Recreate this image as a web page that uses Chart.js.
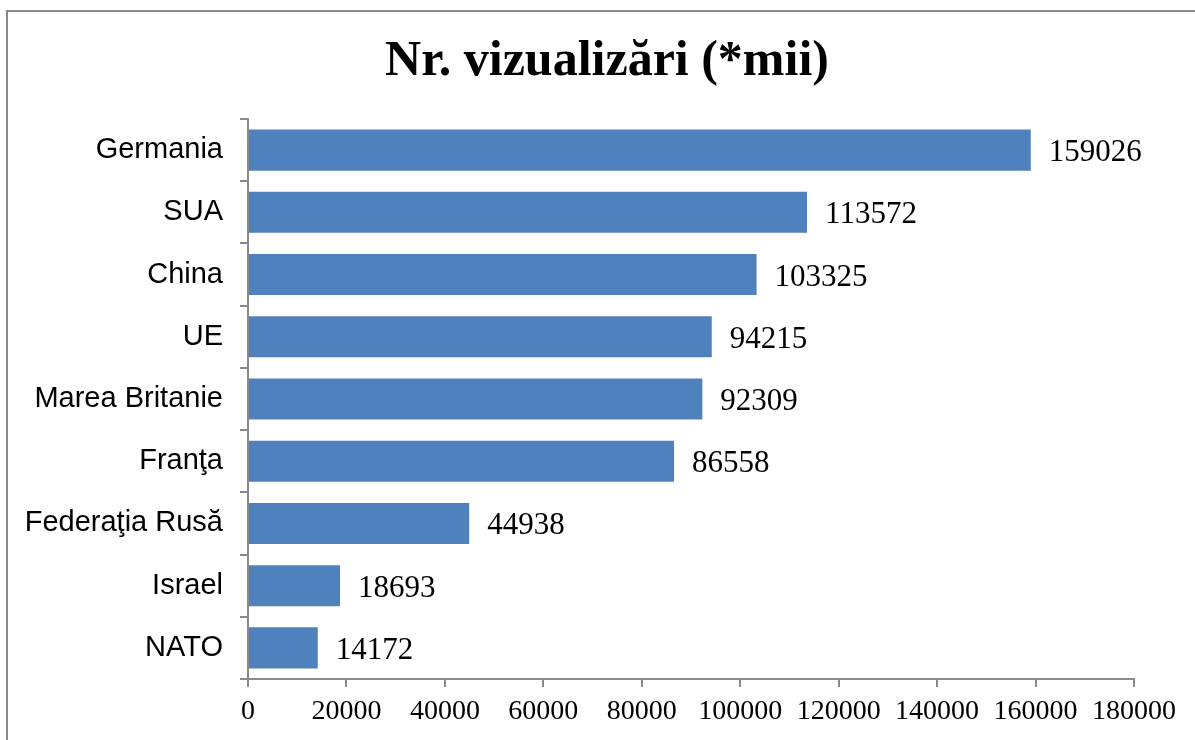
<!DOCTYPE html>
<html>
<head>
<meta charset="utf-8">
<script src="https://cdn.jsdelivr.net/npm/chart.js@4.4.0/dist/chart.umd.min.js"></script>
<style>
  html, body { margin: 0; padding: 0; background: #fff; }
  #wrap { position: relative; width: 1195px; height: 740px; }
</style>
</head>
<body>
<div id="wrap"><canvas id="chart" width="1195" height="740"></canvas></div>
<script>
  const TITLE = 'Nr. vizualizări (*mii)';
  const countries = ['Germania', 'SUA', 'China', 'UE', 'Marea Britanie', 'Franţa', 'Federaţia Rusă', 'Israel', 'NATO'];
  const views = [159026, 113572, 103325, 94215, 92309, 86558, 44938, 18693, 14172];
  const xMin = 0;
  const xMax = 180000;
  const xStep = 20000;

  const AXIS_GRAY = '#8a8a8a';
  const BAR_BLUE = '#4f81bd';

  // frame + title drawn straight on the canvas
  const framePlugin = {
    id: 'frame',
    beforeDraw(chart) {
      const ctx = chart.ctx;
      ctx.save();
      ctx.fillStyle = '#fff';
      ctx.fillRect(0, 0, chart.width, chart.height);
      ctx.strokeStyle = AXIS_GRAY;
      ctx.lineWidth = 2;
      ctx.strokeRect(7, 11, 1400, 1000);
      ctx.fillStyle = '#000';
      ctx.font = 'bold 50px "Liberation Serif"';
      ctx.textAlign = 'center';
      ctx.textBaseline = 'alphabetic';
      ctx.fillText(TITLE, 607, 75);
      ctx.restore();
    }
  };

  // value labels right of each bar
  const valueLabels = {
    id: 'valueLabels',
    afterDatasetsDraw(chart) {
      const ctx = chart.ctx;
      const meta = chart.getDatasetMeta(0);
      ctx.save();
      ctx.fillStyle = '#000';
      ctx.font = '31px "Liberation Serif"';
      ctx.textAlign = 'left';
      ctx.textBaseline = 'alphabetic';
      meta.data.forEach((bar, i) => {
        ctx.fillText(String(views[i]), bar.x + 18, bar.y + 11);
      });
      ctx.restore();
    }
  };

  new Chart(document.getElementById('chart').getContext('2d'), {
    type: 'bar',
    data: {
      labels: countries,
      datasets: [{
        data: views,
        backgroundColor: BAR_BLUE,
        borderWidth: 0,
        barPercentage: 0.66,
        categoryPercentage: 1
      }]
    },
    options: {
      indexAxis: 'y',
      responsive: false,
      animation: false,
      layout: { padding: { top: 119, left: 0, right: 61, bottom: 0 } },
      plugins: {
        legend: { display: false },
        title: { display: false },
        tooltip: { enabled: false }
      },
      scales: {
        x: {
          min: xMin,
          max: xMax,
          ticks: {
            stepSize: xStep,
            color: '#000',
            font: { family: 'Liberation Serif', size: 28 },
            padding: 8,
            maxRotation: 0,
            autoSkip: false,
            callback: v => String(v)
          },
          grid: { drawOnChartArea: false, drawTicks: true, tickLength: 8, color: AXIS_GRAY, lineWidth: 2 },
          border: { display: true, color: AXIS_GRAY, width: 2 },
          afterFit(scale) { scale.height = 61; }
        },
        y: {
          ticks: {
            color: '#000',
            font: { family: 'Liberation Sans', size: 29 },
            padding: 17,
            autoSkip: false
          },
          grid: { offset: true, drawOnChartArea: false, drawTicks: true, tickLength: 8, color: AXIS_GRAY, lineWidth: 2 },
          border: { display: true, color: AXIS_GRAY, width: 2 },
          afterFit(scale) { scale.width = 248; }
        }
      }
    },
    plugins: [framePlugin, valueLabels]
  });
</script>
</body>
</html>
